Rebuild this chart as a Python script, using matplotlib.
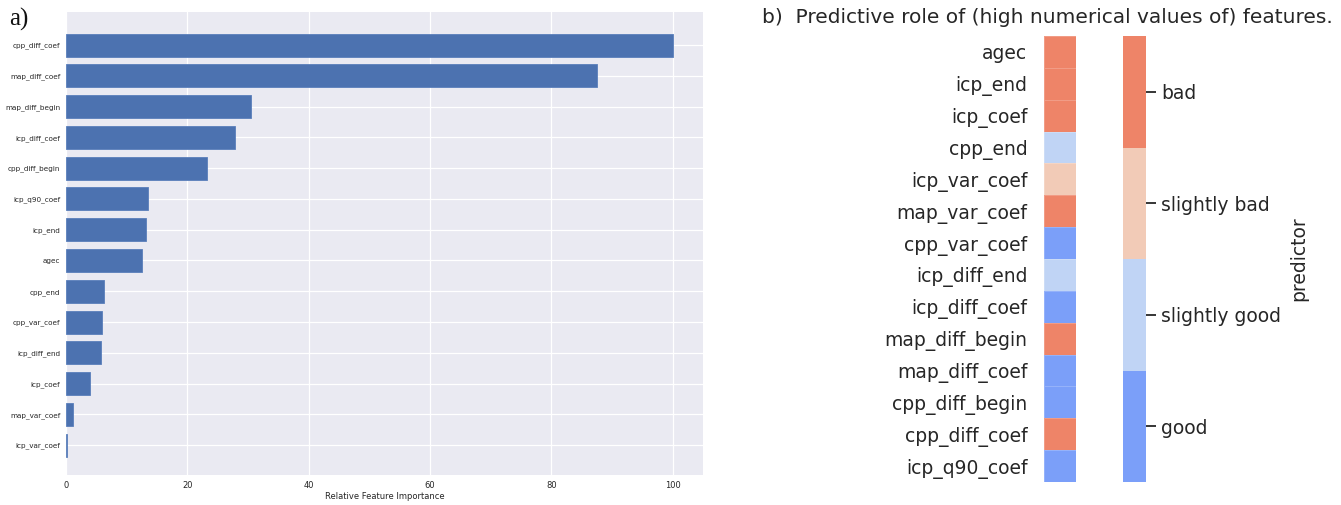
import numpy as np
import matplotlib
matplotlib.use("Agg")
import matplotlib.pyplot as plt
from matplotlib.colors import ListedColormap, BoundaryNorm

# ---- data ----
imp_features = ["cpp_diff_coef", "map_diff_coef", "map_diff_begin", "icp_diff_coef",
                "cpp_diff_begin", "icp_q90_coef", "icp_end", "agec", "cpp_end",
                "cpp_var_coef", "icp_diff_end", "icp_coef", "map_var_coef", "icp_var_coef"]
imp_values = [100, 87.6, 30.5, 27.9, 23.3, 13.5, 13.2, 12.6, 6.3, 5.9, 5.8, 4.0, 1.15, 0.2]

role_features = ["agec", "icp_end", "icp_coef", "cpp_end", "icp_var_coef", "map_var_coef",
                 "cpp_var_coef", "icp_diff_end", "icp_diff_coef", "map_diff_begin",
                 "map_diff_coef", "cpp_diff_begin", "cpp_diff_coef", "icp_q90_coef"]
role_labels = ["good", "slightly good", "slightly bad", "bad"]
role_values = ["bad", "bad", "bad", "slightly good", "slightly bad", "bad", "good",
               "slightly good", "good", "bad", "good", "good", "bad", "good"]
role_colors = ["#7b9ff9", "#c0d4f5", "#f2cbb7", "#ee8468"]

TXT = "#262626"
fig = plt.figure(figsize=(13.41, 5.05), dpi=100)

# ---- left panel ----
ax = fig.add_axes([0.0492, 0.0594, 0.4750, 0.9166])
ax.set_facecolor("#eaeaf2")
ypos = np.arange(len(imp_features))
ax.barh(ypos, imp_values, height=0.75, color="#4c72b0", edgecolor="#5a7fbb", linewidth=0.6, zorder=2)
ax.set_yticks(ypos)
ax.set_yticklabels(imp_features, fontsize=5.2, color=TXT)
ax.set_ylim(13.97, -1.07)
ax.set_xlim(0, 105)
ax.set_xticks([0, 20, 40, 60, 80, 100])
ax.tick_params(axis="x", labelsize=6, colors=TXT, length=0, pad=4)
ax.tick_params(axis="y", length=0, pad=4)
ax.grid(True, color="white", linewidth=0.9, zorder=0)
ax.set_axisbelow(True)
for s in ax.spines.values():
    s.set_visible(False)
ax.set_xlabel("Relative Feature Importance", fontsize=6, color=TXT, labelpad=2)
fig.text(0.007, 0.962, "a)", fontsize=18, family="Liberation Serif", color="#111111",
         ha="left", va="center")

# ---- right panel: heatmap ----
cmap = ListedColormap(role_colors)
norm = BoundaryNorm([-0.5, 0.5, 1.5, 2.5, 3.5], 4)
codes = np.array([role_labels.index(v) for v in role_values]).reshape(-1, 1)

hx = fig.add_axes([0.7785, 0.0455, 0.0239, 0.8832])
hx.pcolormesh(np.arange(2), np.arange(len(role_features) + 1), codes, cmap=cmap, norm=norm,
              edgecolors=(1, 1, 1, 0.2), linewidth=0.5)
hx.set_ylim(len(role_features), 0)
hx.set_xlim(0, 1)
hx.set_xticks([])
hx.set_yticks(np.arange(len(role_features)) + 0.5)
hx.set_yticklabels(role_features, fontsize=13.5, color=TXT)
hx.tick_params(axis="y", length=0, pad=12)
for s in hx.spines.values():
    s.set_visible(False)

# ---- colour key (legend bar) ----
cx = fig.add_axes([0.8374, 0.0455, 0.0172, 0.8832])
level_pos = np.arange(len(role_labels))
cx.pcolormesh(np.arange(2), np.arange(len(role_labels) + 1) - 0.5, level_pos.reshape(-1, 1),
              cmap=cmap, norm=norm)
cx.set_ylim(-0.5, len(role_labels) - 0.5)
cx.set_xlim(0, 1)
cx.set_xticks([])
cx.yaxis.tick_right()
cx.yaxis.set_label_position("right")
cx.set_yticks(level_pos)
cx.set_yticklabels(role_labels, fontsize=13.5, color=TXT)
cx.tick_params(axis="y", left=False, right=True, labelleft=False, labelright=True,
               length=6, width=0, pad=5)
# visible tick marks
cx.hlines(level_pos, 1.0, 1.45, transform=cx.get_yaxis_transform(), colors=TXT,
          linewidth=1.3, clip_on=False)
for s in cx.spines.values():
    s.set_visible(False)
cx.set_ylabel("predictor", fontsize=13.5, color=TXT, labelpad=6)

fig.text(0.5682, 0.965, "b)  Predictive role of (high numerical values of) features.",
         fontsize=14.5, color=TXT, ha="left", va="center")

fig.savefig("out.png", dpi=100)
